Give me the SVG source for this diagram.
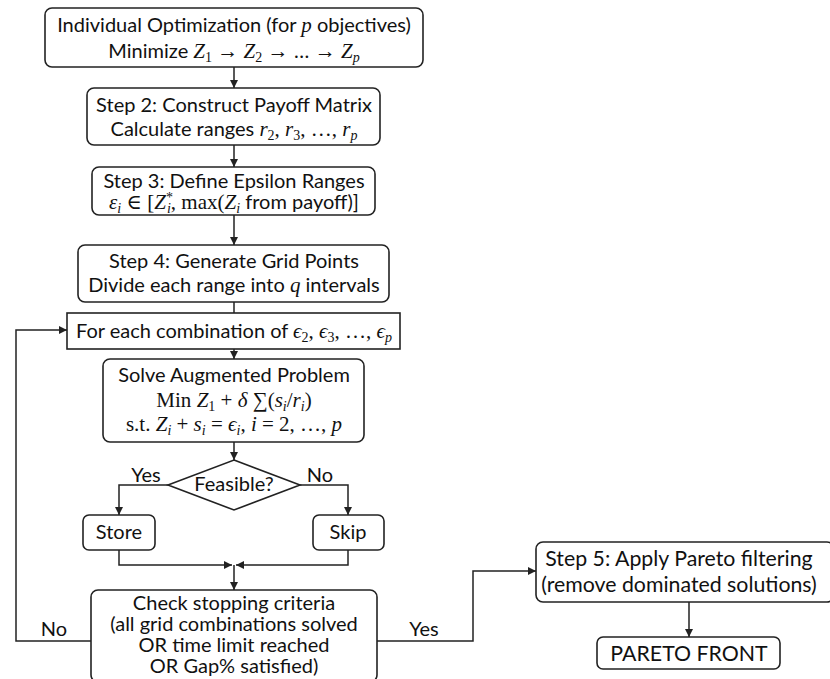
<svg xmlns="http://www.w3.org/2000/svg" width="830" height="679" viewBox="0 0 830 679">
<style>
.b{fill:#fff;stroke:#222;stroke-width:1.6}
.c{fill:none;stroke:#222;stroke-width:1.5}
.t{font-family:Lato,"Open Sans",sans-serif;font-size:20px;fill:#111;text-anchor:middle}
.t2{font-size:21.3px}
.m{font-family:"Liberation Serif","DejaVu Serif",serif;font-style:italic;font-size:21px}
.r{font-family:"Liberation Serif","DejaVu Serif",serif;font-style:normal;font-size:21px}
.s{font-family:"Liberation Serif","DejaVu Serif",serif;font-style:normal;font-size:14px}
.si{font-family:"Liberation Serif","DejaVu Serif",serif;font-style:italic;font-size:14px}
</style>
<defs>
<marker id="ah" viewBox="0 0 10 10" refX="10" refY="5" markerWidth="8" markerHeight="8" orient="auto" markerUnits="userSpaceOnUse">
<path d="M0,0 L10,5 L0,10 z" fill="#222"/>
</marker>
</defs>
<rect width="830" height="679" fill="#fff"/>
<g id="connectors">
<path class="c" d="M234,67 V88" marker-end="url(#ah)"/>
<path class="c" d="M234,145 V167" marker-end="url(#ah)"/>
<path class="c" d="M234,215 V245" marker-end="url(#ah)"/>
<path class="c" d="M234,302 V313"/>
<path class="c" d="M234,349 V359" marker-end="url(#ah)"/>
<path class="c" d="M234,442 V460" marker-end="url(#ah)"/>
<path class="c" d="M168,485 H119 V515" marker-end="url(#ah)"/>
<path class="c" d="M300,485 H348 V515" marker-end="url(#ah)"/>
<path class="c" d="M119,550 V565 H232" marker-end="url(#ah)"/>
<path class="c" d="M348,550 V565 H236" marker-end="url(#ah)"/>
<path class="c" d="M234,565 V590" marker-end="url(#ah)"/>
<path class="c" d="M91,641 H16 V330 H67" marker-end="url(#ah)"/>
<path class="c" d="M377,641 H473 V571 H536" marker-end="url(#ah)"/>
<path class="c" d="M689,602 V637" marker-end="url(#ah)"/>
<text class="t" x="146" y="482">Yes</text>
<text class="t" x="320" y="482">No</text>
<text class="t" x="54" y="636">No</text>
<text class="t" x="424" y="636">Yes</text>
</g>
<g id="n1">
<rect class="b" x="45" y="8" width="378" height="59" rx="7"/>
<text class="t" x="234" y="32">Individual Optimization (for <tspan class="m">p</tspan> objectives)</text>
<text class="t" x="234" y="58">Minimize <tspan class="m">Z</tspan><tspan class="s" dy="4">1</tspan><tspan class="r" dy="-4"> → </tspan><tspan class="m">Z</tspan><tspan class="s" dy="4">2</tspan><tspan class="r" dy="-4"> → ... → </tspan><tspan class="m">Z</tspan><tspan class="si" dy="4">p</tspan></text>
</g>
<g id="n2">
<rect class="b" x="87" y="88" width="293" height="57" rx="7"/>
<text class="t" x="234" y="112">Step 2: Construct Payoff Matrix</text>
<text class="t" x="234" y="136">Calculate ranges <tspan class="m">r</tspan><tspan class="s" dy="4">2</tspan><tspan class="r" dy="-4">, </tspan><tspan class="m">r</tspan><tspan class="s" dy="4">3</tspan><tspan class="r" dy="-4">, …, </tspan><tspan class="m">r</tspan><tspan class="si" dy="4">p</tspan></text>
</g>
<g id="n3">
<rect class="b" x="92" y="167" width="283" height="48" rx="7"/>
<text class="t" x="234" y="188">Step 3: Define Epsilon Ranges</text>
<text class="t" x="234" y="209"><tspan class="m">ε</tspan><tspan class="si" dy="4">i</tspan><tspan class="r" dy="-4"> ∈ [</tspan><tspan class="m">Z</tspan><tspan class="s" dy="-7">*</tspan><tspan class="si" dx="-6" dy="11">i</tspan><tspan class="r" dy="-4">, max(</tspan><tspan class="m">Z</tspan><tspan class="si" dy="4">i</tspan><tspan dy="-4"> from payoff)]</tspan></text>
</g>
<g id="n4">
<rect class="b" x="78" y="245" width="311" height="57" rx="7"/>
<text class="t" x="234" y="268">Step 4: Generate Grid Points</text>
<text class="t" x="234" y="292">Divide each range into <tspan class="m">q</tspan> intervals</text>
</g>
<g id="loop">
<rect class="b" x="67" y="313" width="333" height="36"/>
<text class="t" x="234" y="338">For each combination of <tspan class="m">ϵ</tspan><tspan class="s" dy="4">2</tspan><tspan class="r" dy="-4">, </tspan><tspan class="m">ϵ</tspan><tspan class="s" dy="4">3</tspan><tspan class="r" dy="-4">, …, </tspan><tspan class="m">ϵ</tspan><tspan class="si" dy="4">p</tspan></text>
</g>
<g id="solve">
<rect class="b" x="103" y="359" width="261" height="83" rx="7"/>
<text class="t" x="234" y="382">Solve Augmented Problem</text>
<text class="t" x="234" y="407"><tspan class="r">Min </tspan><tspan class="m">Z</tspan><tspan class="s" dy="4">1</tspan><tspan class="r" dy="-4"> + </tspan><tspan class="m">δ</tspan><tspan class="r"> ∑(</tspan><tspan class="m">s</tspan><tspan class="si" dy="4">i</tspan><tspan class="r" dy="-4">/</tspan><tspan class="m">r</tspan><tspan class="si" dy="4">i</tspan><tspan class="r" dy="-4">)</tspan></text>
<text class="t" x="234" y="431"><tspan class="r">s.t. </tspan><tspan class="m">Z</tspan><tspan class="si" dy="4">i</tspan><tspan class="r" dy="-4"> + </tspan><tspan class="m">s</tspan><tspan class="si" dy="4">i</tspan><tspan class="r" dy="-4"> = </tspan><tspan class="m">ϵ</tspan><tspan class="si" dy="4">i</tspan><tspan class="r" dy="-4">, </tspan><tspan class="m">i</tspan><tspan class="r"> = 2, …, </tspan><tspan class="m">p</tspan></text>
</g>
<g id="feasible">
<polygon class="b" points="234,460 300,485 234,510 168,485"/>
<text class="t" x="234" y="491">Feasible?</text>
</g>
<g id="store">
<rect class="b" x="83" y="515" width="72" height="35" rx="6"/>
<text class="t" x="119" y="539">Store</text>
</g>
<g id="skip">
<rect class="b" x="313" y="515" width="71" height="35" rx="6"/>
<text class="t" x="348" y="539">Skip</text>
</g>
<g id="check">
<rect class="b" x="91" y="590" width="286" height="92" rx="7"/>
<text class="t" x="234" y="610">Check stopping criteria</text>
<text class="t" x="234" y="631">(all grid combinations solved</text>
<text class="t" x="234" y="652">OR time limit reached</text>
<text class="t" x="234" y="673">OR Gap% satisfied)</text>
</g>
<g id="step5">
<rect class="b" x="536" y="542" width="298" height="60" rx="7"/>
<text class="t t2" x="679" y="566">Step 5: Apply Pareto filtering</text>
<text class="t t2" x="679" y="592">(remove dominated solutions)</text>
</g>
<g id="pareto">
<rect class="b" x="597" y="637" width="183" height="32" rx="6"/>
<text class="t t2" x="689" y="661">PARETO FRONT</text>
</g>
</svg>
